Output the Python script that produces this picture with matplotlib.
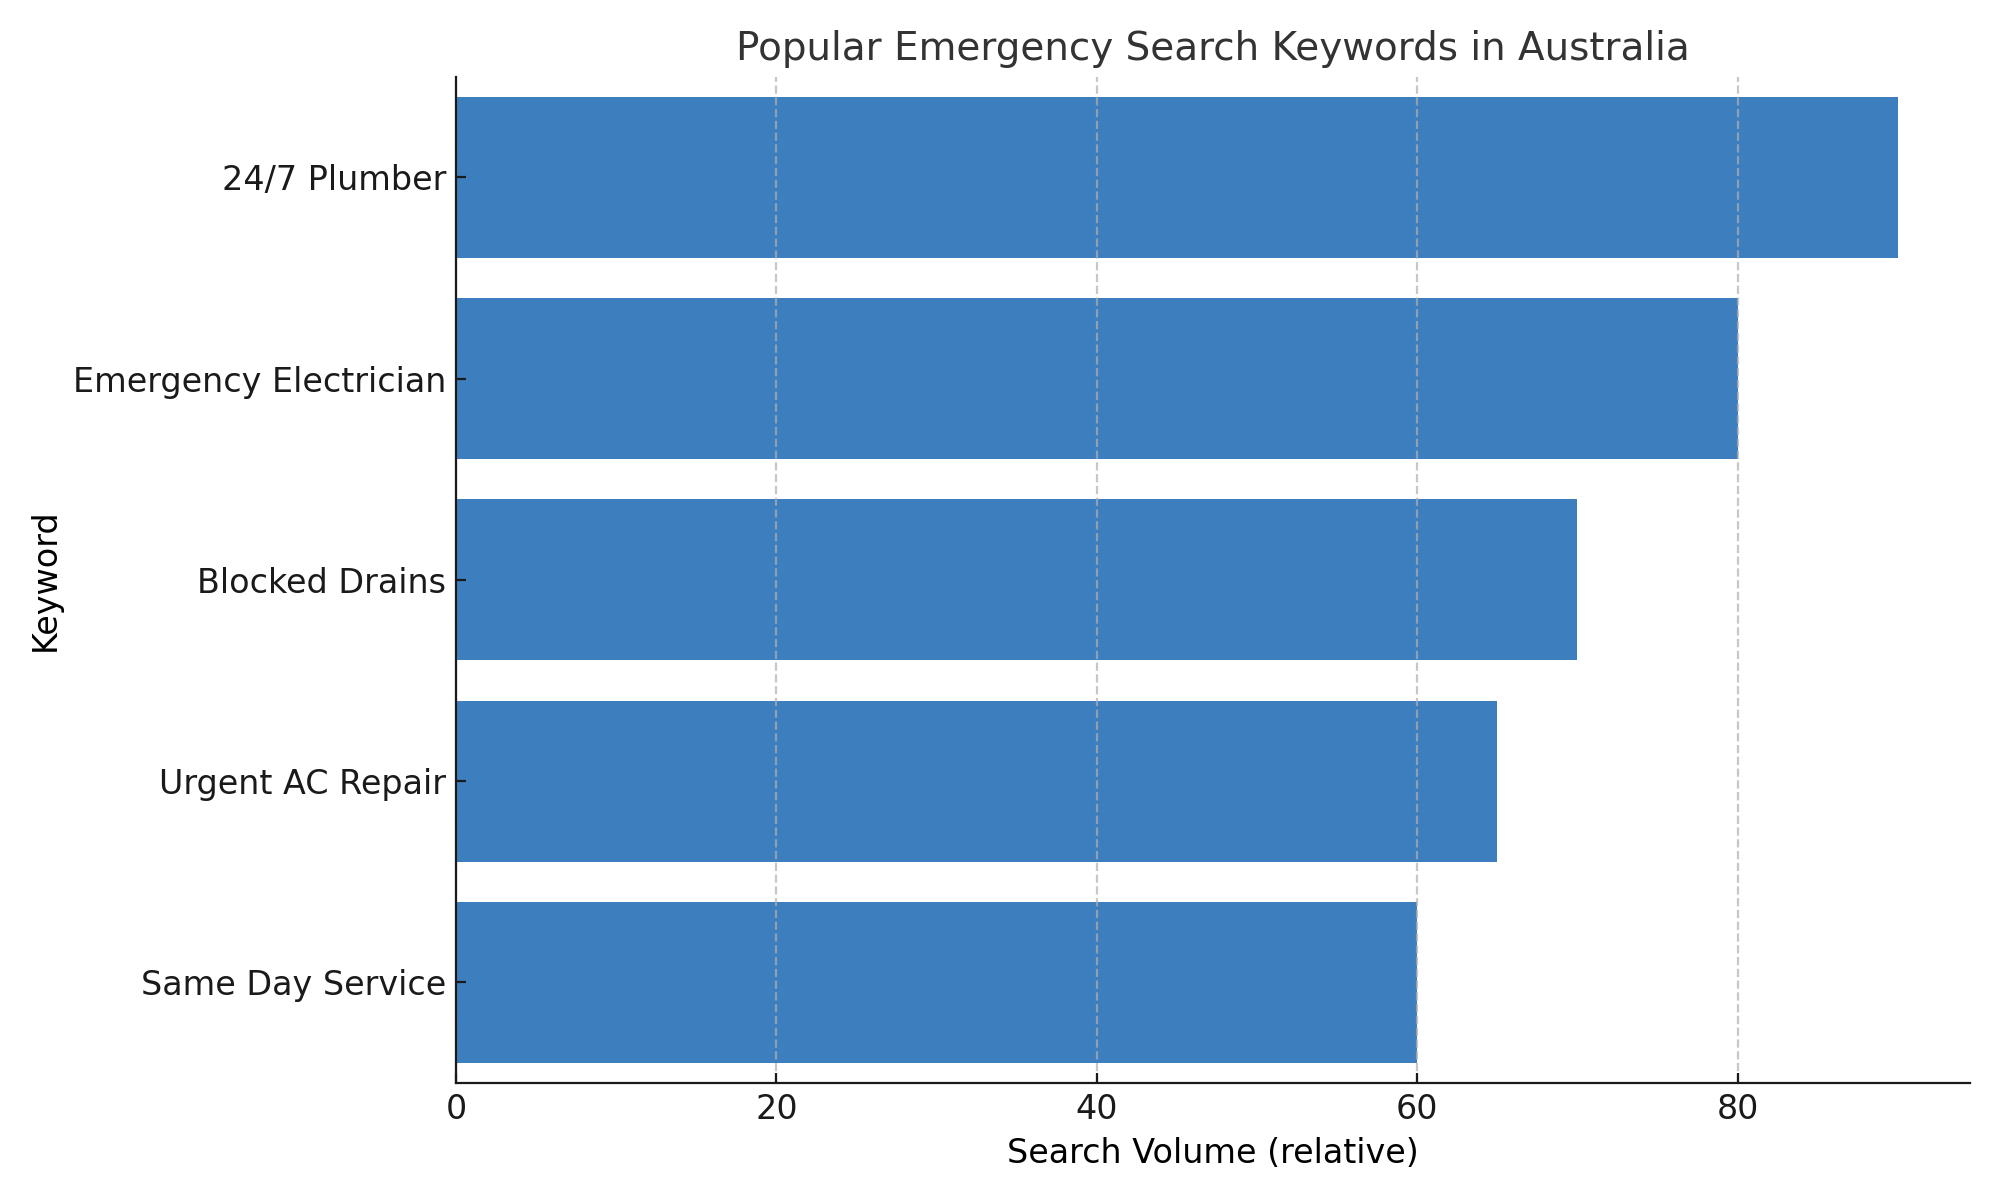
import matplotlib
matplotlib.use("Agg")
import matplotlib.pyplot as plt

keywords = ["24/7 Plumber", "Emergency Electrician", "Blocked Drains", "Urgent AC Repair", "Same Day Service"]
volumes = [90, 80, 70, 65, 60]

plt.rcParams["font.size"] = 12
fig, ax = plt.subplots(figsize=(10, 6), dpi=200)
ax.barh(keywords, volumes, color="#3d7ebf", height=0.8)
ax.set_ylim(len(keywords) - 0.5, -0.5)
ax.set_title("Popular Emergency Search Keywords in Australia", color="#333333", fontsize=14)
ax.set_xlabel("Search Volume (relative)", fontsize=12)
ax.set_ylabel("Keyword", fontsize=12)
ax.tick_params(labelsize=12, colors="#1a1a1a", direction="in")
ax.grid(axis="x", linestyle="--", color="#b0b0b0", alpha=0.7)
ax.set_axisbelow(False)
for s in ["top", "right"]:
    ax.spines[s].set_visible(False)
for s in ["left", "bottom"]:
    ax.spines[s].set_zorder(5)
    ax.spines[s].set_color("#1a1a1a")
fig.subplots_adjust(left=0.228, right=0.985, top=0.936, bottom=0.0975)
fig.savefig("out.png")
